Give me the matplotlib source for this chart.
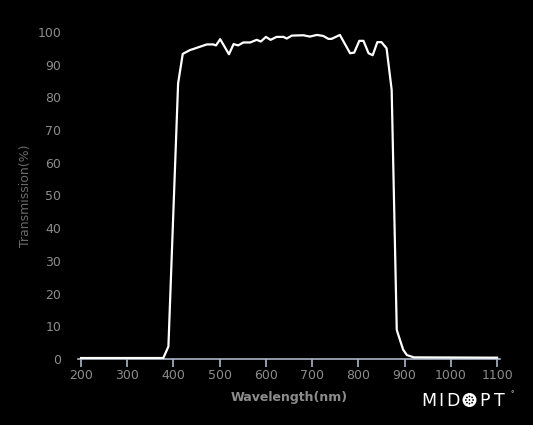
import matplotlib
matplotlib.use("Agg")
import matplotlib.pyplot as plt
from matplotlib.patches import Circle

# transmission curve
wavelength = [200, 378, 389, 410, 420, 436, 443, 472, 486, 492, 501, 520, 530, 540,
              551, 566, 580, 589, 600, 610, 623, 638, 645, 656, 681, 695, 710, 724,
              735, 742, 760, 782, 791, 802, 811, 822, 831, 841, 850, 861, 872, 883,
              890, 897, 905, 920, 1100]
transmission = [0.3, 0.3, 3.8, 84.3, 93.3, 94.5, 94.8, 96.2, 96.2, 95.9, 97.8, 93.2, 96.3, 95.9,
                96.8, 96.8, 97.6, 97.1, 98.5, 97.6, 98.5, 98.5, 98.0, 98.9, 99.0, 98.6, 99.1, 98.8,
                97.9, 97.9, 99.1, 93.5, 93.7, 97.3, 97.3, 93.5, 92.9, 96.9, 96.9, 95.0, 82.3, 8.9,
                5.8, 2.8, 1.2, 0.5, 0.4]
x_ticks = [200, 300, 400, 500, 600, 700, 800, 900, 1000, 1100]
y_ticks = [0, 10, 20, 30, 40, 50, 60, 70, 80, 90, 100]

label_col = "#8c8c8c"
axis_col = "#aab6c8"

fig = plt.figure(figsize=(5.33, 4.25), dpi=100, facecolor="black")
ax = fig.add_axes([77.8 / 533, 66 / 425, 422.5 / 533, 327 / 425], facecolor="black")

ax.plot(wavelength, transmission, color="white", lw=1.6, solid_joinstyle="round", zorder=3)

ax.set_xlim(193, 1107)
ax.set_ylim(0, 100)
ax.set_xticks(x_ticks)
ax.set_yticks(y_ticks)

for s in ["top", "right", "left"]:
    ax.spines[s].set_visible(False)
ax.spines["bottom"].set_color(axis_col)
ax.spines["bottom"].set_linewidth(1.2)

ax.tick_params(axis="x", colors=label_col, length=5.5, width=1.2, color=axis_col,
               labelsize=9, pad=2)
ax.tick_params(axis="y", colors=label_col, length=0, labelsize=9, pad=12)

ax.set_xlabel("Wavelength(nm)", color=label_col, fontsize=9, fontweight="bold", labelpad=6)
ax.set_ylabel("Transmission(%)", color="#6a6a6a", fontsize=9, labelpad=4)

# MIDOPT logo, letters placed one by one
for ch, px in [("M", 421), ("I", 438.5), ("D", 446), ("P", 479), ("T", 494)]:
    fig.text(px / 533, 1 - 401 / 425, ch, color="white", fontsize=12.5,
             ha="left", va="center", fontfamily="DejaVu Sans")
fig.text(510 / 533, 1 - 394 / 425, "°", color="white", fontsize=5, ha="left", va="center")
cx, cy, r = 469.5, 425 - 400, 7.0
fig.patches.append(Circle((cx, cy), r, transform=None, fc="white", ec="none"))
for dx, dy in [(0, 0), (3.6, 0), (-3.6, 0), (0, 3.6), (0, -3.6),
               (2.6, 2.6), (-2.6, 2.6), (2.6, -2.6), (-2.6, -2.6)]:
    fig.patches.append(Circle((cx + dx, cy + dy), 0.9, transform=None, fc="black", ec="none"))

fig.savefig("out.png", dpi=100, facecolor="black")
